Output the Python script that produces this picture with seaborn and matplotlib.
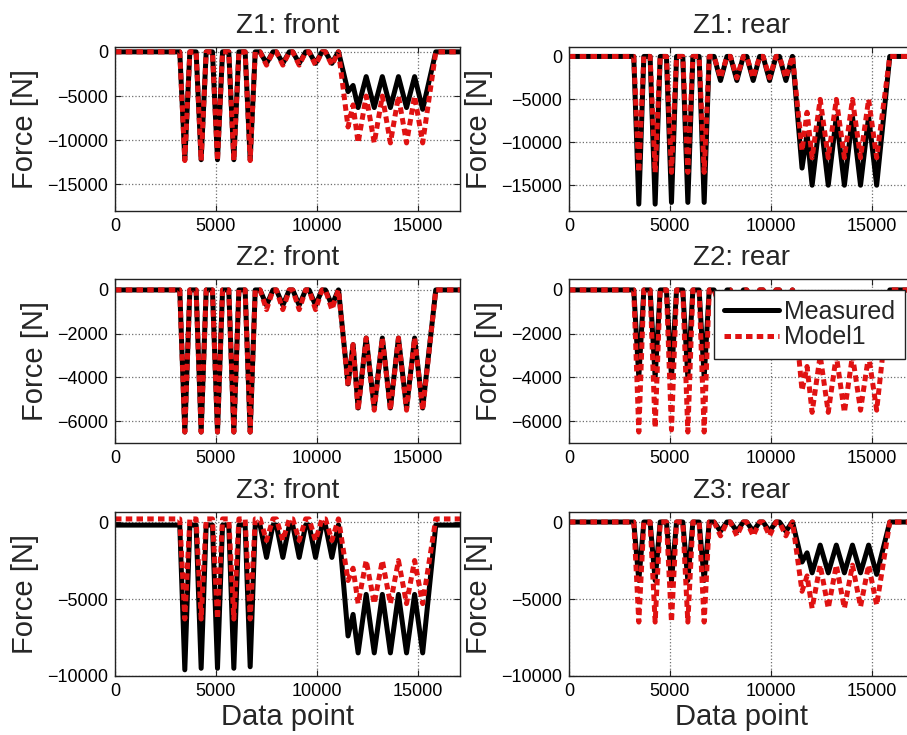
import numpy as np
import pandas as pd
import matplotlib
matplotlib.use("Agg")
import matplotlib.pyplot as plt
import seaborn as sns

# ---- panels -------------------------------------------------------------
panel_titles = ["Z1: front", "Z1: rear", "Z2: front", "Z2: rear", "Z3: front", "Z3: rear"]
y_limits = [(-18000, 550), (-18000, 1100), (-7000, 500), (-7000, 500), (-10000, 650), (-10000, 650)]
y_ticks = [
    [-15000, -10000, -5000, 0],
    [-15000, -10000, -5000, 0],
    [-6000, -4000, -2000, 0],
    [-6000, -4000, -2000, 0],
    [-10000, -5000, 0],
    [-10000, -5000, 0],
]
x_ticks = [0, 5000, 10000, 15000]
series_names = ["Measured", "Model1"]

# ---- event landmarks along the record (data point index) ----------------
X_END = 17100
SPIKE_X = [3460, 4270, 5080, 5890, 6700]
SPIKE_HW = 250
DIP_X = [7510, 8320, 9130, 9940, 10750]
DIP_HW = 320
RAMP_START = 11080
VALLEY_X = [11550, 12050, 12850, 13650, 14450, 15250]
PEAK_X = [11800, 12450, 13250, 14050, 14850]
RAMP_END = 15900

# ---- force levels [N], one entry per panel -------------------------------
base_meas = [0, 0, 0, 0, -200, 0]
base_model = [0, 0, 0, 0, 200, 0]

spike_meas = [
    [-12200, -12200, -12200, -12200, -12200],
    [-17200, -17200, -17000, -17000, -17000],
    [-6500, -6500, -6500, -6500, -6500],
    [-4000, -4000, -4000, -4000, -4000],
    [-9600, -9500, -9500, -9500, -9400],
    [-3800, -3800, -3800, -3800, -3800],
]
spike_model = [
    [-12300, -12300, -12300, -12300, -12300],
    [-13500, -13500, -13500, -13500, -13500],
    [-6500, -6500, -6500, -6500, -6500],
    [-6500, -6300, -6400, -6500, -6500],
    [-6300, -6300, -6300, -6300, -6300],
    [-6500, -6500, -6500, -6500, -6500],
]
dip_meas = [
    [-1300, -1300, -1300, -1300, -1300],
    [-2800, -2800, -2800, -2800, -2800],
    [-700, -700, -700, -700, -700],
    [-700, -700, -700, -700, -700],
    [-2300, -2300, -2300, -2300, -2300],
    [-600, -600, -600, -600, -600],
]
dip_model = [
    [-1500, -1500, -1500, -1500, -1500],
    [-2500, -2500, -2500, -2500, -2500],
    [-900, -900, -900, -900, -900],
    [-900, -900, -900, -900, -900],
    [-1200, -1200, -1200, -1200, -1200],
    [-900, -900, -900, -900, -900],
]
valley_meas = [
    [-4500, -6300, -6300, -6300, -6300, -6500],
    [-13000, -15000, -15000, -15000, -15000, -15000],
    [-4300, -5400, -5400, -5400, -5400, -5400],
    [-2000, -2700, -2700, -2700, -2700, -2700],
    [-7400, -8500, -8500, -8500, -8500, -8500],
    [-2600, -3300, -3300, -3300, -3300, -3400],
]
peak_meas = [
    [-3800, -2800, -2800, -2800, -2800],
    [-9000, -7000, -7000, -7000, -7000],
    [-2500, -2200, -2200, -2200, -2200],
    [-1300, -1100, -1100, -1100, -1100],
    [-6000, -4700, -4700, -4700, -4700],
    [-2000, -1500, -1500, -1500, -1500],
]
valley_model = [
    [-8500, -10300, -10300, -10300, -10300, -10300],
    [-11000, -11800, -11800, -11800, -11800, -11800],
    [-4400, -5500, -5500, -5500, -5500, -5500],
    [-4600, -5600, -5600, -5600, -5500, -5500],
    [-3800, -5300, -5300, -5300, -5300, -5300],
    [-4500, -5600, -5600, -5600, -5500, -5400],
]
peak_model = [
    [-6000, -5000, -5000, -5000, -5000],
    [-6500, -5000, -5000, -5000, -5000],
    [-2500, -2200, -2200, -2200, -2200],
    [-3500, -3000, -3000, -3000, -3000],
    [-3000, -2500, -2500, -2500, -2500],
    [-3500, -2800, -2800, -2800, -2800],
]


def force_trace(base, spikes, dips, valleys, peaks):
    """Polyline through the landmark levels of one force record."""
    xs, ys = [0], [base]
    for cx, d in zip(SPIKE_X, spikes):
        xs += [cx - SPIKE_HW, cx, cx + SPIKE_HW]
        ys += [base, d, base]
    for cx, d in zip(DIP_X, dips):
        xs += [cx - DIP_HW, cx, cx + DIP_HW]
        ys += [base, d, base]
    xs.append(RAMP_START)
    ys.append(base)
    for i, v in enumerate(valleys):
        xs.append(VALLEY_X[i])
        ys.append(v)
        if i < len(peaks):
            xs.append(PEAK_X[i])
            ys.append(peaks[i])
    xs += [RAMP_END, X_END]
    ys += [base, base]
    return np.array(xs, float), np.array(ys, float)


# ---- style ---------------------------------------------------------------
sns.set_style("ticks")
plt.rcParams["font.family"] = ["Liberation Sans", "DejaVu Sans"]
plt.rcParams["axes.edgecolor"] = "#222222"
plt.rcParams["axes.linewidth"] = 1.0

W, H = 907, 735
fig = plt.figure(figsize=(W / 100, H / 100), dpi=100)
fig.patch.set_facecolor("white")

col_left = [115, 569]
ax_w = 345
row_top = [47, 279, 512]
ax_h = 164

meas_color = "black"
model_color = "#e01212"
lw = 3.6

axes = []
for k, title in enumerate(panel_titles):
    r, c = divmod(k, 2)
    left = col_left[c] / W
    bottom = 1 - (row_top[r] + ax_h) / H
    ax = fig.add_axes([left, bottom, ax_w / W, ax_h / H])
    axes.append(ax)

    xm, ym = force_trace(base_meas[k], spike_meas[k], dip_meas[k], valley_meas[k], peak_meas[k])
    xo, yo = force_trace(base_model[k], spike_model[k], dip_model[k], valley_model[k], peak_model[k])

    sns.lineplot(x=xm, y=ym, ax=ax, color=meas_color, linewidth=lw, sort=False,
                 estimator=None, label=series_names[0])
    sns.lineplot(x=xo, y=yo, ax=ax, color=model_color, linewidth=lw, sort=False,
                 estimator=None, label=series_names[1], linestyle=(0, (1.3, 0.85)))

    leg = ax.get_legend()
    if leg is not None:
        leg.remove()

    ax.set_xlim(0, X_END)
    ax.set_ylim(*y_limits[k])
    ax.set_xticks(x_ticks)
    ax.set_yticks(y_ticks[k])
    ax.grid(True, linestyle=":", color="#6e6e6e", linewidth=0.9)
    ax.tick_params(direction="in", length=4, width=0.8, top=True, right=True,
                   labelsize=13, pad=5, colors="#222222", labelcolor="black")
    for s in ax.spines.values():
        s.set_visible(True)
    ax.set_title(title, fontsize=20, pad=10)
    ax.set_ylabel("Force [N]", fontsize=21, labelpad=6)
    if r == 2:
        ax.set_xlabel("Data point", fontsize=21, labelpad=2)
    else:
        ax.set_xlabel("")

# legend on the Z2 rear panel
ax_leg = axes[3]
handles, labels = ax_leg.get_legend_handles_labels()
ax_leg.legend(handles, labels, loc="upper right",
              bbox_to_anchor=((905 - col_left[1]) / ax_w, (443 - 290) / ax_h),
              fontsize=18, frameon=True, fancybox=False, framealpha=1.0,
              edgecolor="#222222", borderpad=0.4, labelspacing=0.05,
              handlelength=2.2, handletextpad=0.2, borderaxespad=0.0)
ax_leg.get_legend().get_frame().set_linewidth(1.0)

fig.savefig("out.png", dpi=100, facecolor="white")
